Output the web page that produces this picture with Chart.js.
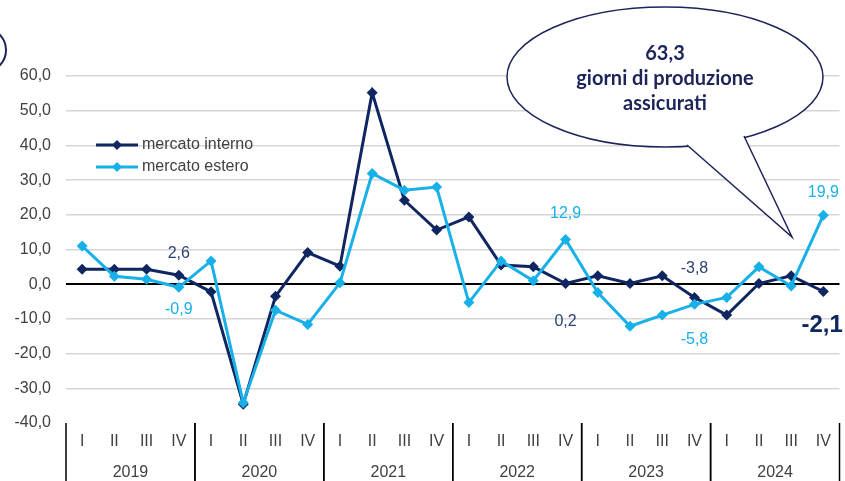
<!DOCTYPE html>
<html>
<head>
<meta charset="utf-8">
<script src="https://cdn.jsdelivr.net/npm/chart.js@4.4.1/dist/chart.umd.min.js"></script>
<style>
  body { margin: 0; background: #fff; }
  #wrap { width: 845px; height: 481px; }
</style>
</head>
<body>
<div id="wrap"><canvas id="chart" width="845" height="481"></canvas></div>
<script>
// quarters and years
const quarters = ['I', 'II', 'III', 'IV'];
const years = ['2019', '2020', '2021', '2022', '2023', '2024'];

// values
const interno = [4.3, 4.3, 4.3, 2.6, -2.2, -34.6, -3.5, 9.1, 5.2, 55.2, 24.2, 15.6,
                 19.4, 5.5, 5.0, 0.2, 2.4, 0.2, 2.4, -3.8, -8.9, 0.2, 2.4, -2.1];
const estero = [11.0, 2.3, 1.4, -0.9, 6.7, -34.2, -7.5, -11.6, 0.4, 31.9, 27.1, 28.0,
                -5.3, 6.7, 1.0, 12.9, -2.4, -12.1, -8.9, -5.8, -3.8, 5.0, -0.5, 19.9];

const yTicks = { min: -40, max: 60, step: 10 };
const bubbleText = ['63,3', 'giorni di produzione', 'assicurati'];

const navy = '#0f2660';
const sky = '#17b0e8';
const font = '"Liberation Sans", Arial, sans-serif';
const labels = [];
years.forEach(y => quarters.forEach(q => labels.push(q + '|' + y)));

const fmt = v => v.toFixed(1).replace('.', ',');

// which points get a value label: [dataset, index, vertical offset]
const valueLabels = [
  [0, 3, -22], [1, 3, 22],
  [1, 15, -26], [0, 15, 38],
  [0, 19, -29], [1, 19, 35],
  [1, 23, -23]
];

const extras = {
  id: 'extras',
  afterDraw(chart) {
    const ctx = chart.ctx;
    const x = chart.scales.x;
    const area = chart.chartArea;
    const band = x.getPixelForValue(1) - x.getPixelForValue(0);
    ctx.save();

    // category labels and year groups
    ctx.fillStyle = '#404040';
    ctx.font = '16px ' + font;
    ctx.textAlign = 'center';
    ctx.textBaseline = 'middle';
    labels.forEach((l, i) => {
      ctx.fillText(l.split('|')[0], x.getPixelForValue(i), area.bottom + 19);
    });
    ctx.strokeStyle = '#000';
    ctx.lineWidth = 1.5;
    years.forEach((y, g) => {
      const a = x.getPixelForValue(g * 4) - band / 2;
      const b = x.getPixelForValue(g * 4 + 3) + band / 2;
      ctx.fillText(y, (a + b) / 2, area.bottom + 50);
      ctx.beginPath();
      ctx.moveTo(a, area.bottom); ctx.lineTo(a, chart.height);
      ctx.moveTo(b, area.bottom); ctx.lineTo(b, chart.height);
      ctx.stroke();
    });

    // value labels
    ctx.font = '16px ' + font;
    valueLabels.forEach(([d, i, dy]) => {
      const pt = chart.getDatasetMeta(d).data[i];
      const v = chart.data.datasets[d].data[i];
      ctx.fillStyle = d === 0 ? '#2f4175' : sky;
      ctx.fillText(fmt(v), pt.x, pt.y + dy);
    });
    const last = chart.getDatasetMeta(0).data[23];
    ctx.font = 'bold 24px ' + font;
    ctx.fillStyle = navy;
    ctx.textAlign = 'left';
    ctx.fillText(fmt(interno[23]), last.x - 22, last.y + 34);

    // legend
    const legend = [[navy, 'mercato interno'], [sky, 'mercato estero']];
    ctx.font = '16px ' + font;
    legend.forEach(([c, t], k) => {
      const ly = 145 + k * 22;
      ctx.strokeStyle = c; ctx.lineWidth = 3;
      ctx.beginPath(); ctx.moveTo(96, ly); ctx.lineTo(138, ly); ctx.stroke();
      ctx.fillStyle = c;
      ctx.beginPath();
      ctx.moveTo(117, ly - 5); ctx.lineTo(122, ly); ctx.lineTo(117, ly + 5); ctx.lineTo(112, ly);
      ctx.closePath(); ctx.fill();
      ctx.fillStyle = '#404040';
      ctx.fillText(t, 142, ly);
    });

    // speech bubble
    ctx.fillStyle = '#fff';
    ctx.strokeStyle = '#1c2459';
    ctx.lineWidth = 1.5;
    ctx.beginPath();
    ctx.ellipse(665, 77, 158, 70, 0, 0, Math.PI * 2);
    ctx.fill(); ctx.stroke();
    ctx.beginPath();
    ctx.moveTo(687, 145); ctx.lineTo(792, 237); ctx.lineTo(744, 136);
    ctx.closePath(); ctx.fill();
    ctx.beginPath();
    ctx.moveTo(687, 145); ctx.lineTo(792, 237); ctx.lineTo(744, 136);
    ctx.stroke();
    ctx.fillStyle = '#1c2459';
    ctx.textAlign = 'center';
    ctx.font = 'bold 20px Lato, "Open Sans", sans-serif';
    bubbleText.forEach((t, k) => ctx.fillText(t, 665, 54 + k * 25));

    // partial circle at top-left
    ctx.strokeStyle = '#1c2459';
    ctx.lineWidth = 2;
    ctx.beginPath(); ctx.arc(-16, 50, 22, 0, Math.PI * 2); ctx.stroke();
    ctx.restore();
  }
};

new Chart(document.getElementById('chart'), {
  type: 'line',
  data: {
    labels: labels,
    datasets: [
      { label: 'mercato interno', data: interno, borderColor: navy, backgroundColor: navy, order: 2 },
      { label: 'mercato estero', data: estero, borderColor: sky, backgroundColor: sky, order: 1 }
    ]
  },
  options: {
    responsive: false,
    animation: false,
    layout: { padding: { top: 76, right: 3, left: 0, bottom: 0 } },
    elements: {
      line: { borderWidth: 3, tension: 0 },
      point: { pointStyle: 'rectRot', radius: 5.5, borderWidth: 0 }
    },
    plugins: { legend: { display: false }, tooltip: { enabled: false } },
    scales: {
      x: {
        offset: true,
        grid: { display: false },
        border: { display: false },
        ticks: { display: false },
        afterFit: s => { s.height = 58; }
      },
      y: {
        min: yTicks.min, max: yTicks.max,
        border: { display: false },
        grid: {
          drawTicks: false,
          color: c => c.tick.value === 0 ? '#000' : (c.tick.value === yTicks.min ? 'rgba(0,0,0,0)' : '#d6d6d6'),
          lineWidth: c => c.tick.value === 0 ? 2 : 1.5
        },
        ticks: {
          stepSize: yTicks.step,
          padding: 15,
          color: '#404040',
          font: { family: font, size: 16 },
          callback: v => fmt(v)
        },
        afterFit: s => { s.width = 66; }
      }
    }
  },
  plugins: [extras]
});
</script>
</body>
</html>
